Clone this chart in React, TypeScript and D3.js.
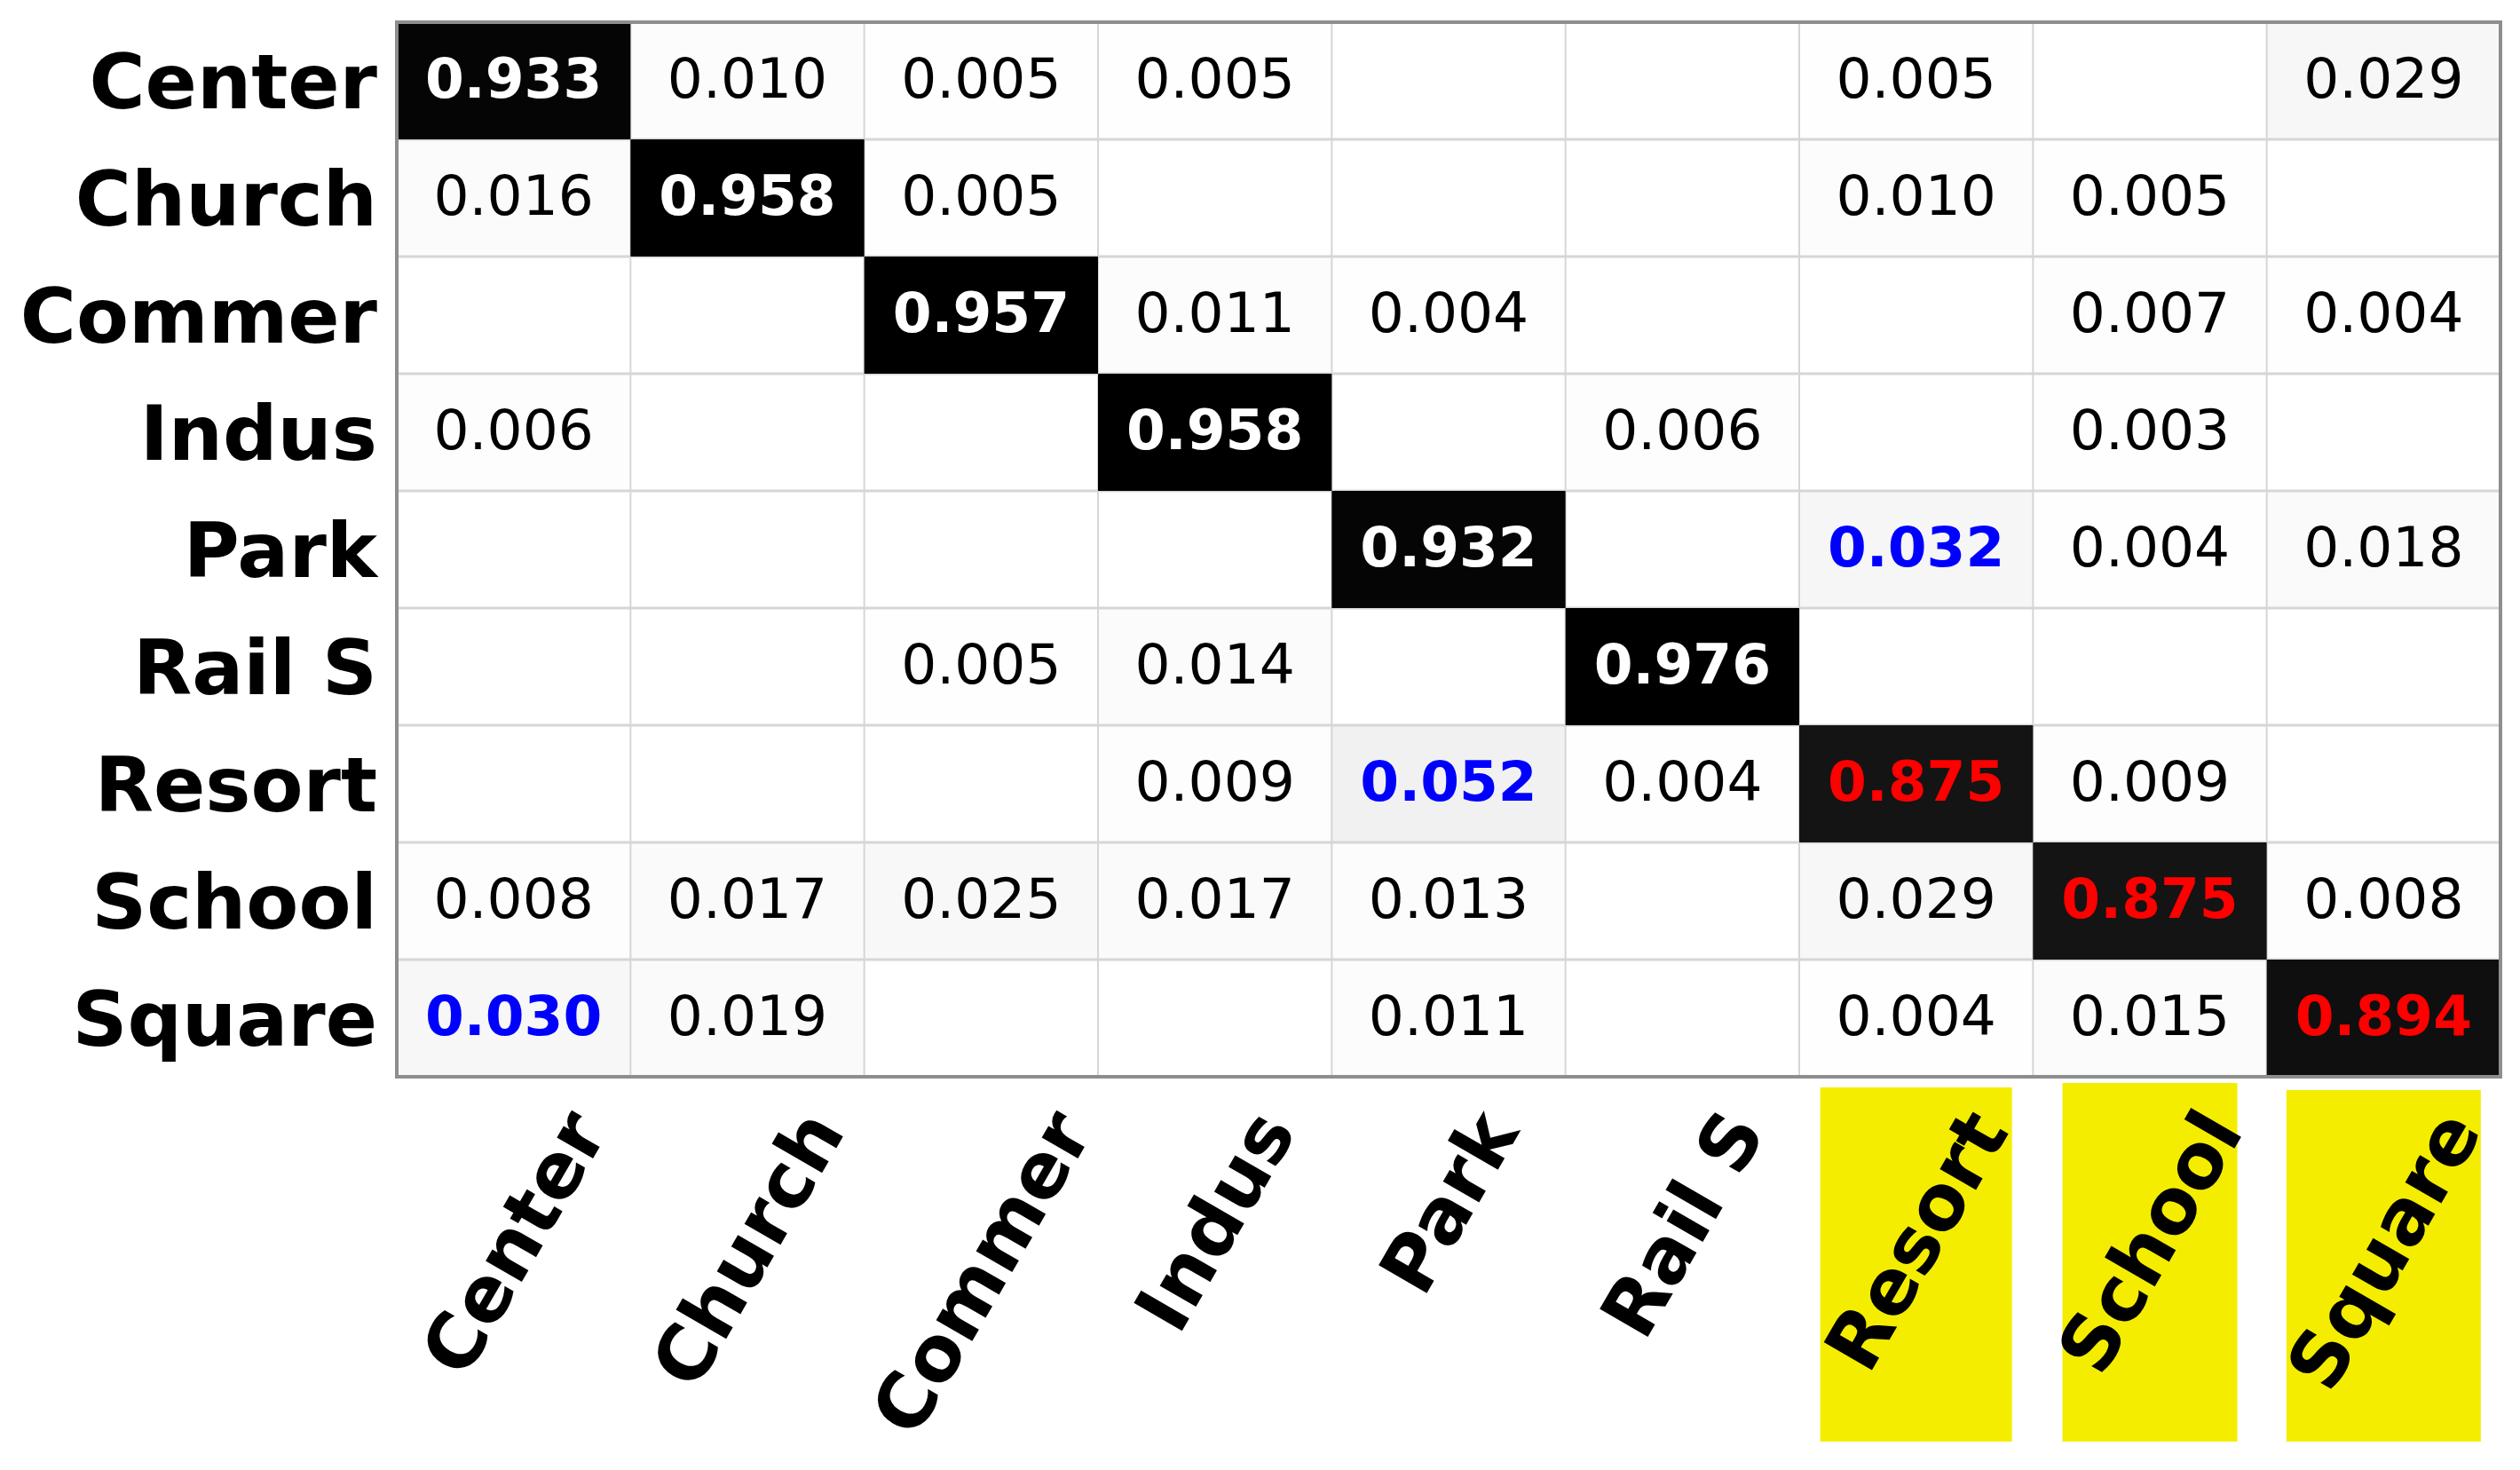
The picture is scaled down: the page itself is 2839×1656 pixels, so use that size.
import React, { useRef, useEffect } from "react";
import * as d3 from "d3";

// class names (rows = true, columns = predicted)
const labels = ["Center", "Church", "Commer", "Indus", "Park", "Rail S", "Resort", "School", "Square"];

// confusion matrix rows, null = empty cell
const rowCenter = [0.933, 0.01, 0.005, 0.005, null, null, 0.005, null, 0.029];
const rowChurch = [0.016, 0.958, 0.005, null, null, null, 0.01, 0.005, null];
const rowCommer = [null, null, 0.957, 0.011, 0.004, null, null, 0.007, 0.004];
const rowIndus = [0.006, null, null, 0.958, null, 0.006, null, 0.003, null];
const rowPark = [null, null, null, null, 0.932, null, 0.032, 0.004, 0.018];
const rowRailS = [null, null, 0.005, 0.014, null, 0.976, null, null, null];
const rowResort = [null, null, null, 0.009, 0.052, 0.004, 0.875, 0.009, null];
const rowSchool = [0.008, 0.017, 0.025, 0.017, 0.013, null, 0.029, 0.875, 0.008];
const rowSquare = [0.03, 0.019, null, null, 0.011, null, 0.004, 0.015, 0.894];

const rows = [rowCenter, rowChurch, rowCommer, rowIndus, rowPark, rowRailS, rowResort, rowSchool, rowSquare];

// classes whose diagonal value is printed in red, and their tick labels highlighted
const weakClasses = ["Resort", "School", "Square"];
// main confusions printed in blue: [row, column]
const blueCells = [
  ["Park", "Resort"],
  ["Resort", "Park"],
  ["Square", "Center"],
];

const App = () => {
  const svgRef = useRef(null);

  useEffect(() => {
    const width = 2839;
    const height = 1656;
    const left = 447;
    const top = 25;
    const right = 2817;
    const bottom = 1213;
    const font = "DejaVu Sans";

    const svg = d3.select(svgRef.current).attr("width", width).attr("height", height);
    svg.selectAll("*").remove();

    svg.append("rect").attr("width", width).attr("height", height).attr("fill", "#fff");

    const x = d3.scaleBand().domain(labels).range([left, right]);
    const y = d3.scaleBand().domain(labels).range([top, bottom]);

    const color = d3.scaleLinear<string>().domain([0, 0.95]).range(["#ffffff", "#000000"]).clamp(true);

    const cells = [];
    rows.forEach((r, i) => {
      r.forEach((v, j) => {
        cells.push({ row: labels[i], col: labels[j], value: v });
      });
    });

    // cells
    svg
      .append("g")
      .selectAll("rect")
      .data(cells)
      .join("rect")
      .attr("x", (d) => x(d.col))
      .attr("y", (d) => y(d.row))
      .attr("width", x.bandwidth())
      .attr("height", y.bandwidth())
      .attr("fill", (d) => (d.value == null ? "#fff" : color(d.value)));

    // grid lines
    const grid = svg.append("g");
    labels.slice(1).forEach((l) => {
      grid
        .append("line")
        .attr("x1", x(l))
        .attr("x2", x(l))
        .attr("y1", top)
        .attr("y2", bottom)
        .attr("stroke", "#d6d6d6")
        .attr("stroke-width", 2);
      grid
        .append("line")
        .attr("x1", left)
        .attr("x2", right)
        .attr("y1", y(l))
        .attr("y2", y(l))
        .attr("stroke", "#d6d6d6")
        .attr("stroke-width", 3);
    });

    // re-draw diagonal cells over the grid lines
    svg
      .append("g")
      .selectAll("rect")
      .data(cells.filter((d) => d.row === d.col))
      .join("rect")
      .attr("x", (d) => x(d.col))
      .attr("y", (d) => y(d.row))
      .attr("width", x.bandwidth())
      .attr("height", y.bandwidth())
      .attr("fill", (d) => color(d.value));

    // border
    svg
      .append("rect")
      .attr("x", left)
      .attr("y", top)
      .attr("width", right - left)
      .attr("height", bottom - top)
      .attr("fill", "none")
      .attr("stroke", "#8e8e8e")
      .attr("stroke-width", 4);

    const isBlue = (d) => blueCells.some((b) => b[0] === d.row && b[1] === d.col);
    const textColor = (d) => {
      if (d.row === d.col) return weakClasses.includes(d.row) ? "#ff0000" : "#ffffff";
      if (isBlue(d)) return "#0000ff";
      return "#000";
    };

    // values
    svg
      .append("g")
      .selectAll("text")
      .data(cells.filter((d) => d.value != null))
      .join("text")
      .attr("x", (d) => x(d.col) + x.bandwidth() / 2)
      .attr("y", (d) => y(d.row) + y.bandwidth() / 2 + 19)
      .attr("text-anchor", "middle")
      .attr("font-family", font)
      .attr("font-size", 63)
      .attr("font-weight", (d) => (d.row === d.col || isBlue(d) ? "bold" : "normal"))
      .attr("fill", textColor)
      .text((d) => d3.format(".3f")(d.value));

    // row labels
    svg
      .append("g")
      .selectAll("text")
      .data(labels)
      .join("text")
      .attr("x", left - 22)
      .attr("y", (d) => y(d) + y.bandwidth() / 2 + 31)
      .attr("text-anchor", "end")
      .attr("font-family", font)
      .attr("font-size", 86)
      .attr("font-weight", "bold")
      .text((d) => d);

    // highlight boxes behind the weak column labels
    const boxes = [
      { label: "Resort", w: 216, y0: 1225 },
      { label: "School", w: 197, y0: 1220 },
      { label: "Square", w: 219, y0: 1228 },
    ];
    svg
      .append("g")
      .selectAll("rect")
      .data(boxes.filter((b) => weakClasses.includes(b.label)))
      .join("rect")
      .attr("x", (d) => x(d.label) + x.bandwidth() / 2 - d.w / 2)
      .attr("y", (d) => d.y0)
      .attr("width", (d) => d.w)
      .attr("height", (d) => 1624 - d.y0)
      .attr("fill", "#f4ed00");

    // column labels, rotated 60 deg, bbox centred on the column
    const angle = 60;
    const rad = (angle * Math.PI) / 180;
    const labelTop = 1238;
    const colLabels = svg
      .append("g")
      .selectAll("text")
      .data(labels)
      .join("text")
      .attr("text-anchor", "middle")
      .attr("dominant-baseline", "central")
      .attr("font-family", font)
      .attr("font-size", 86)
      .attr("font-weight", "bold")
      .text((d) => d);

    colLabels.each(function (d) {
      const node = this as SVGTextElement;
      const L = node.getComputedTextLength();
      const h = 86 * 1.0;
      const cx = x(d) + x.bandwidth() / 2;
      const cy = labelTop + (L * Math.sin(rad) + h * Math.cos(rad)) / 2;
      d3.select(node)
        .attr("x", cx)
        .attr("y", cy)
        .attr("transform", `rotate(${-angle},${cx},${cy})`);
    });
  }, []);

  return (
    <div style={{ position: "absolute", left: 0, top: 0 }}>
      <svg ref={svgRef}></svg>
    </div>
  );
};

export default App;
